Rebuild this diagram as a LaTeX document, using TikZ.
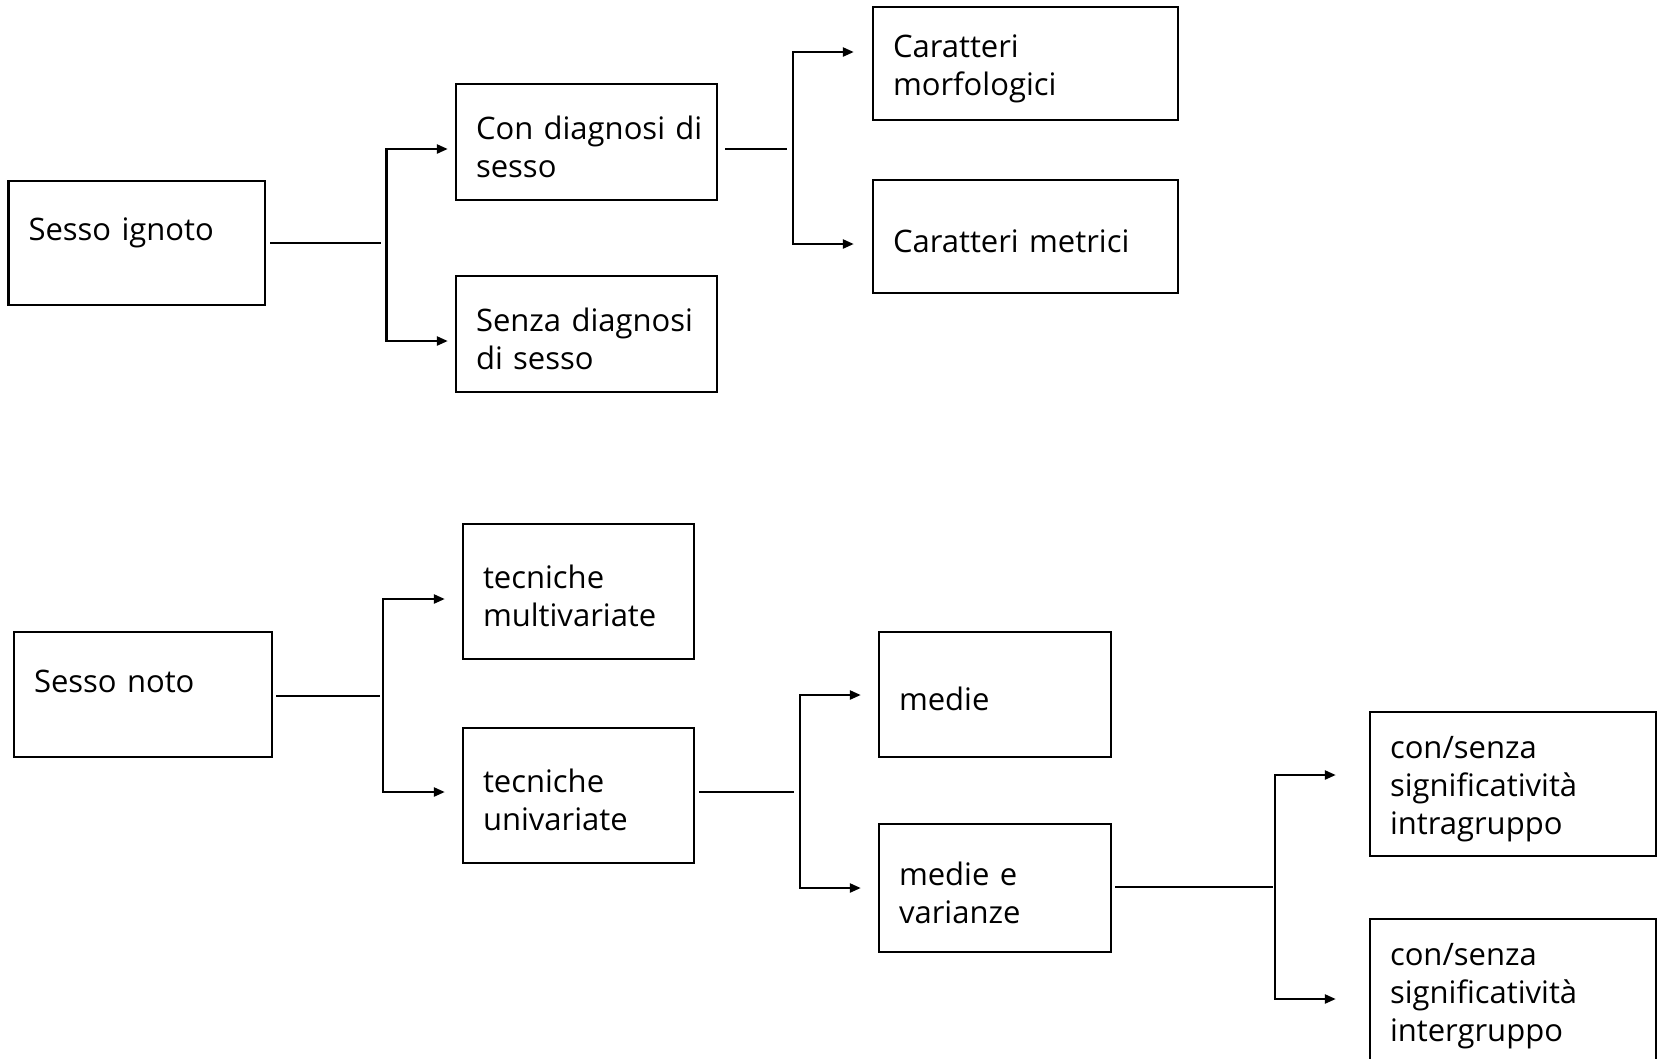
\documentclass[tikz,border=0pt]{standalone}
\usepackage{fontspec}
\setmainfont{Open Sans}
\usetikzlibrary{arrows.meta,calc}
\newcommand\tstrut{\rule{0pt}{33pt}}
\begin{document}
\begin{tikzpicture}[x=1pt,y=-1pt,
  box/.style={draw, line width=2.4pt, inner xsep=0pt, inner ysep=0pt, align=left,
    font=\fontsize{31}{38}\selectfont},
  conn/.style={line width=2.4pt},
  arr/.style={line width=2.4pt, {Triangle[length=11pt,width=9pt]}-{Triangle[length=11pt,width=9pt]}},
]
\clip (0,0) rectangle (1657,1058);
% top group
\node[box, minimum width=256.5pt, minimum height=124pt, text width=216.5pt] (A) at (136.75,243) {\tstrut Sesso ignoto\\\mbox{}};
\node[box, minimum width=261pt, minimum height=116pt, text width=221pt] (B) at (586.5,142) {\tstrut\mbox{Con diagnosi di}\\sesso};
\node[box, minimum width=261pt, minimum height=116pt, text width=221pt] (C) at (586.5,334) {\tstrut\mbox{Senza diagnosi}\\di sesso};
\node[box, minimum width=305pt, minimum height=113pt, text width=265pt] (D) at (1025.5,63.5) {\tstrut Caratteri\\morfologici};
\node[box, minimum width=305pt, minimum height=113pt, text width=265pt] (E) at (1025.5,236.5) {\tstrut Caratteri metrici};
% bottom group
\node[box, minimum width=258pt, minimum height=125pt, text width=218pt] (F) at (143,694.5) {\tstrut Sesso noto\\\mbox{}};
\node[box, minimum width=231pt, minimum height=135pt, text width=191pt] (G) at (578.5,591.5) {\tstrut tecniche\\multivariate};
\node[box, minimum width=231pt, minimum height=135pt, text width=191pt] (H) at (578.5,795.5) {\tstrut tecniche\\univariate};
\node[box, minimum width=232pt, minimum height=125pt, text width=192pt] (I) at (995,694.5) {\tstrut medie};
\node[box, minimum width=232pt, minimum height=128pt, text width=192pt] (J) at (995,888) {\tstrut medie e\\varianze};
\node[box, minimum width=286pt, minimum height=144pt, text width=246pt] (K) at (1513,784) {\tstrut con/senza\\significatività\\intragruppo};
\node[box, minimum width=286pt, minimum height=144pt, text width=246pt] (L) at (1513,991) {\tstrut con/senza\\significatività\\intergruppo};

% connectors top
\coordinate (s1) at (381,243);
\coordinate (j1t) at (386.5,149);
\coordinate (j1b) at (386.5,341);
\draw[conn] ($(A.east|-s1)+(4,0)$) -- (s1);
\draw[arr] ($(B.west|-j1t)+(-7,0)$) -- (j1t) -- (j1b) -- ($(C.west|-j1b)+(-7,0)$);

\coordinate (s2) at (787,149);
\coordinate (j2t) at (793,52);
\coordinate (j2b) at (793,244);
\draw[conn] ($(B.east|-s2)+(7,0)$) -- (s2);
\draw[arr] ($(D.west|-j2t)+(-18,0)$) -- (j2t) -- (j2b) -- ($(E.west|-j2b)+(-18,0)$);

% connectors bottom
\coordinate (s3) at (380,696);
\coordinate (j3t) at (383,599);
\coordinate (j3b) at (383,792);
\draw[conn] ($(F.east|-s3)+(3,0)$) -- (s3);
\draw[arr] ($(G.west|-j3t)+(-17,0)$) -- (j3t) -- (j3b) -- ($(H.west|-j3b)+(-17,0)$);

\coordinate (s4) at (794,792);
\coordinate (j4t) at (800,695);
\coordinate (j4b) at (800,888);
\draw[conn] ($(H.east|-s4)+(4,0)$) -- (s4);
\draw[arr] ($(I.west|-j4t)+(-17,0)$) -- (j4t) -- (j4b) -- ($(J.west|-j4b)+(-17,0)$);

\coordinate (s5) at (1273,887);
\coordinate (j5t) at (1275,775);
\coordinate (j5b) at (1275,999);
\draw[conn] ($(J.east|-s5)+(3,0)$) -- (s5);
\draw[arr] ($(K.west|-j5t)+(-33,0)$) -- (j5t) -- (j5b) -- ($(L.west|-j5b)+(-33,0)$);
\end{tikzpicture}
\end{document}
